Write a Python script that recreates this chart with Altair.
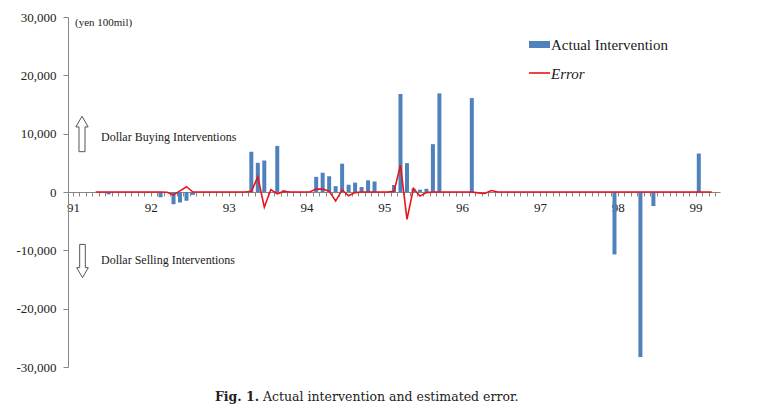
import altair as alt
import pandas as pd

# month index: 0 = Jan 1991, 12 = Jan 1992, ...
bar_month = [5, 13, 15, 16, 17, 18, 27, 28, 29, 31, 32, 37, 38, 39, 40, 41, 42, 43, 44, 45, 46,
             49, 50, 51, 52, 53, 54, 55, 56, 61, 83, 87, 89, 96]
bar_value = [-400, -900, -2100, -1800, -1500, -500, 6900, 5000, 5400, 7900, 300, 2600, 3300, 2700,
             1000, 4850, 1250, 1600, 850, 2000, 1800, 1200, 16800, 4950, 600, 400, 550, 8200, 16900,
             16100, -10700, -28300, -2400, 6600]

err_month = list(range(3, 99))
err_value = [
    0, 0, 0, 0, 0, 0, 0, 0, 0,                      # Apr-Dec 91
    0, 0, -50, -500, 200, 900, 0, 0, 0, 0, 0, 0,      # 92
    0, 0, 0, 100, 2600, -2600, 400, -300, 100, 0, 0, 0,  # 93
    0, 500, 500, 150, -1550, 350, -650, -100, 0, 0, 0, 0,  # 94
    0, 100, 4600, -4700, 600, -700, -100, 0, 0, 0, 0, 0,   # 95
    0, 0, -150, -250, 250, 0, 0, 0, 0, 0, 0, 0,      # 96
    0, 0, 0, 0, 0, 0, 0, 0, 0, 0, 0, 0,              # 97
    0, 0, 0, 0, 0, 0, 0, 0, 0, 0, 0, 0,              # 98
    0, 0, 0,                                          # Jan-Mar 99
]

y_ticks = [-30000, -20000, -10000, 0, 10000, 20000, 30000]
x_ticks = [k - 0.5 for k in range(100)]
first_year = 91

bars_df = pd.DataFrame({"m": bar_month, "v": bar_value})
err_df = pd.DataFrame({"m": err_month, "v": err_value})

SERIF = "Liberation Serif"
BLUE = "#4F81BD"
RED = "#E8141B"
GRAY = "#868686"

xscale = alt.Scale(domain=[-0.5, 98.5], nice=False, zero=False)
yscale = alt.Scale(domain=[-30000, 30000], nice=False)

xaxis = alt.Axis(
    values=x_ticks, tickCount=400, title=None, orient="bottom", offset=-175,
    labelExpr=f"(datum.value + 0.5) % 12 == 0 ? format({first_year} + (datum.value + 0.5) / 12, 'd') : ''",
    labelOverlap=False, labelFlush=False, labelAlign="center", tickSize=4, labelPadding=5,
    domainColor=GRAY, tickColor=GRAY, labelFont=SERIF, labelFontSize=13, labelColor="#222",
    grid=False,
)
yaxis = alt.Axis(
    values=y_ticks, tickCount=20, title=None, tickSize=5, labelPadding=7,
    labelExpr="replace(format(datum.value, ',d'), '\u2212', '-')",
    domainColor=GRAY, tickColor=GRAY, labelFont=SERIF, labelFontSize=13, labelColor="#222",
    grid=False,
)

bars = alt.Chart(bars_df).mark_bar(color=BLUE, size=4).encode(
    x=alt.X("m:Q", scale=xscale, axis=xaxis),
    y=alt.Y("v:Q", scale=yscale, axis=yaxis),
)

line = alt.Chart(err_df).mark_line(color=RED, strokeWidth=1.6).encode(
    x=alt.X("m:Q", scale=xscale),
    y=alt.Y("v:Q", scale=yscale),
)

one = pd.DataFrame({"a": [1]})


def label(text, x, y, size=12, style="normal", weight="normal", align="left", font=SERIF):
    return alt.Chart(one).mark_text(
        text=text, font=font, fontSize=size, fontStyle=style, fontWeight=weight,
        align=align, baseline="middle", color="#222",
    ).encode(x=alt.value(x), y=alt.value(y))


unit = label("(yen 100mil)", 7, 6, size=11)
buy = label("Dollar Buying Interventions", 33, 120, size=12)
sell = label("Dollar Selling Interventions", 33, 243, size=12)

up_path = "M-0.17,1 L0.17,1 L0.17,-0.4 L0.35,-0.4 L0,-1 L-0.35,-0.4 L-0.17,-0.4 Z"
down_path = "M-0.17,-1 L0.17,-1 L0.17,0.4 L0.35,0.4 L0,1 L-0.35,0.4 L-0.17,0.4 Z"
up_arrow = alt.Chart(one).mark_point(
    shape=up_path, size=1250, filled=True, fill="white", stroke="#555", strokeWidth=1, opacity=1
).encode(x=alt.value(14), y=alt.value(117))
down_arrow = alt.Chart(one).mark_point(
    shape=down_path, size=1100, filled=True, fill="white", stroke="#555", strokeWidth=1, opacity=1
).encode(x=alt.value(14.5), y=alt.value(244))

leg_rect = alt.Chart(one).mark_rect(color=BLUE).encode(
    x=alt.value(461), x2=alt.value(482), y=alt.value(24), y2=alt.value(31)
)
leg_rule = alt.Chart(one).mark_rule(color=RED, strokeWidth=1.6).encode(
    x=alt.value(461), x2=alt.value(482), y=alt.value(56)
)
leg_t1 = label("Actual Intervention", 483, 28, size=15)
leg_t2 = label("Error", 483, 56.5, size=15, style="italic")

cap1 = label("Fig. 1.", 147, 380, size=12.5, weight="bold", font="DejaVu Serif")
cap2 = label("Actual intervention and estimated error.", 195, 380, size=12.5, font="DejaVu Serif")

chart = alt.layer(
    bars, line, unit, buy, sell, up_arrow, down_arrow,
    leg_rect, leg_rule, leg_t1, leg_t2, cap1, cap2,
).properties(
    width=652, height=350,
    padding={"left": 60, "top": 9, "right": 43, "bottom": 40},
    autosize=alt.AutoSizeParams(type="none"),
).configure_view(stroke=None)

chart.save("out.html", embed_options={"renderer": "svg", "actions": False})
